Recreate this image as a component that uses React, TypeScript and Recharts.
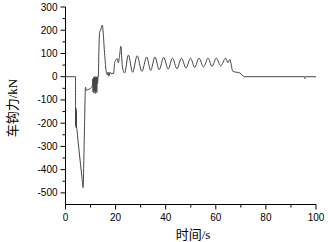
import React from 'react';
import { LineChart, Line, XAxis, YAxis } from 'recharts';

const times: number[] = [
  0, 4.0, 4.02, 4.06, 4.1, 4.14, 4.18, 4.22, 4.26, 4.3, 4.34, 4.38, 4.45, 5.0, 6.0, 6.6, 7.0, 7.5, 8.0, 8.3, 9.0, 10.0, 10.7,
  10.9, 11.0, 11.15, 11.3, 11.45, 11.6, 11.75, 11.9, 12.05, 12.2, 12.35, 12.5, 12.65, 12.8, 13.0,
  13.1, 13.3, 13.6, 14.0, 14.7, 15.5, 16.2, 16.7, 17.0, 17.3, 17.8, 18.2, 19.2, 19.6, 20.2, 20.6, 21.1,
  21.6, 22.1, 22.7, 23.6, 25.1, 26.8, 28.6, 30.5, 32.4, 34.0, 35.7, 37.4, 39.2, 41.0, 42.7, 44.5,
  46.3, 48.1, 49.9, 51.6, 53.3, 55.1, 56.9, 58.5, 60.2, 62.0, 63.9, 64.8, 65.6, 66.8, 69.5, 71.5,
  95.4, 95.6, 95.8, 100,
];
const forces: number[] = [
  0, 0, -130, -200, -135, -210, -140, -215, -150, -220, -160, -222, -222, -277, -377, -437, -477, -261, -45, -58, -55, -50, -40,
  -10, -65, -5, -70, 0, -60, -3, -72, 0, -55, -2, -68, 0, -30, 0,
  0, 100, 190, 200, 222, 117, 25, 8, 20, 2, 20, 14, 14, 60, 73, 78, 60,
  92, 131, 44, 16, 93, 19, 90, 23, 85, 27, 85, 30, 83, 33, 80, 34,
  80, 37, 80, 40, 80, 42, 80, 44, 80, 47, 80, 60, 74, 23, 16, 0,
  0, -8, 0, 0,
];
const xTicks: number[] = [0, 10, 20, 30, 40, 50, 60, 70, 80, 90, 100];
const yTicks: number[] = [-550, -500, -450, -400, -350, -300, -250, -200, -150, -100, -50, 0, 50, 100, 150, 200, 250, 300];

const data = times.map((t, i) => ({ t, f: forces[i] }));

const tickFont = "'Liberation Sans', Arial, sans-serif";
const titleFont = "'Liberation Serif', 'Noto Sans CJK SC', serif";

const XTick = (props: any) => {
  const { x, y, payload } = props;
  const v = payload.value;
  const major = v % 20 === 0;
  return (
    <g>
      <line x1={x} x2={x} y1={y} y2={y + (major ? 5 : 3)} stroke="#000" strokeWidth={1} />
      {major && (
        <text x={x} y={y + 16} textAnchor="middle" fontSize={10} fontFamily={tickFont} fill="#000">
          {v}
        </text>
      )}
    </g>
  );
};

const YTick = (props: any) => {
  const { x, y, payload } = props;
  const v = payload.value;
  if (v === -550) return <g />;
  const major = v % 100 === 0;
  return (
    <g>
      <line x1={x} x2={x - (major ? 5 : 3)} y1={y} y2={y} stroke="#000" strokeWidth={1} />
      {major && (
        <text x={x - 8} y={y + 3.5} textAnchor="end" fontSize={10} fontFamily={tickFont} fill="#000">
          {v}
        </text>
      )}
    </g>
  );
};

export default function App() {
  return (
    <div style={{ position: 'absolute', left: 0, top: 0, width: 328, height: 242, background: '#fff' }}>
      <LineChart width={328} height={242} data={data} margin={{ top: 7, right: 12, bottom: 0, left: 0 }}>
        <XAxis
          dataKey="t"
          type="number"
          domain={[0, 100]}
          ticks={xTicks}
          interval={0}
          tickSize={0}
          tickMargin={0}
          tickLine={false}
          tick={XTick}
          height={37.5}
          stroke="#000"
          label={{
            content: () => (
              <text x={193} y={239} textAnchor="middle" fontSize={13} fontFamily={titleFont} fill="#000">
                时间/s
              </text>
            ),
          }}
        />
        <YAxis
          type="number"
          domain={[-550, 300]}
          ticks={yTicks}
          interval={0}
          tickSize={0}
          tickMargin={0}
          tickLine={false}
          tick={YTick}
          width={65.5}
          stroke="#000"
          allowDataOverflow
          label={{
            content: () => (
              <text
                x={17}
                y={108}
                textAnchor="middle"
                fontSize={13}
                fontFamily={titleFont}
                fill="#000"
                transform="rotate(-90 17 108)"
              >
                车钩力/kN
              </text>
            ),
          }}
        />
        <Line
          dataKey="f"
          type="monotone"
          stroke="#444"
          strokeWidth={1}
          dot={false}
          isAnimationActive={false}
        />
      </LineChart>
    </div>
  );
}
